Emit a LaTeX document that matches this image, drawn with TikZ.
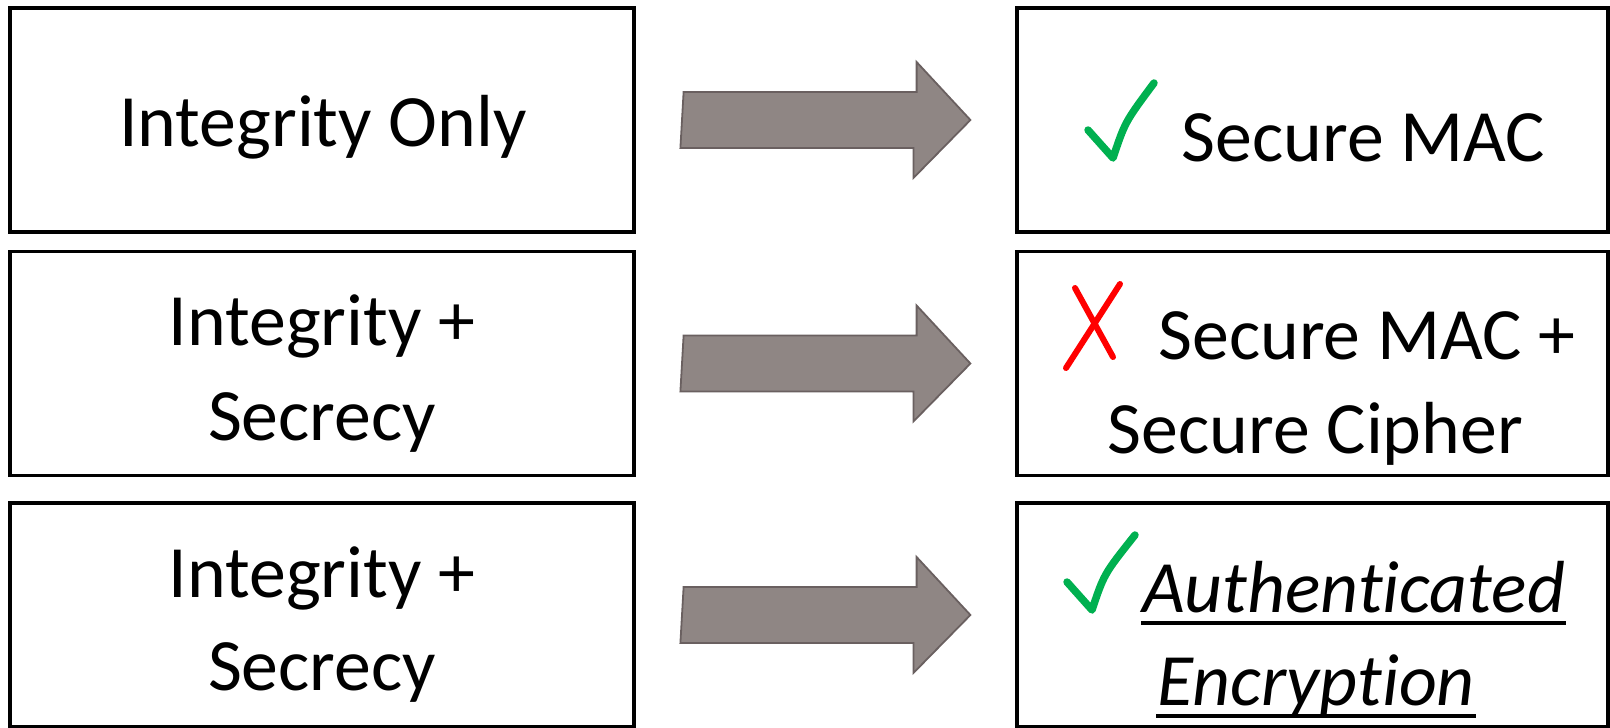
\documentclass[tikz,border=0pt]{standalone}
\usepackage{fontspec}
\setmainfont{Carlito}[Ligatures=NoCommon]
\usepackage{tikz}
\usetikzlibrary{calc,positioning}
\definecolor{arrowfill}{RGB}{143,134,132}
\definecolor{arrowline}{RGB}{106,96,96}
\definecolor{tickgreen}{RGB}{0,176,80}
\tikzset{
  box/.style={
    shape = rectangle,
    draw,
    line width = 0.032cm,
    inner sep = 0,
    minimum height = 2.24cm
  },
  lbox/.style={
    box,
    minimum width = 6.24cm
  },
  rbox/.style={
    box,
    minimum width = 5.91cm
  },
}
\tikzset{
  lbl/.style={
    inner sep = 0,
    anchor = base,
    font = \fontsize{21}{27}\selectfont
  },
  ilbl/.style={
    lbl,
    font = \fontsize{21}{27}\selectfont\itshape
  },
  bigarrow/.style={
    draw = arrowline,
    fill = arrowfill,
    line width = 0.018cm
  },
  tick/.style={
    draw = tickgreen,
    line width = 0.075cm,
    line cap = round,
    line join = round
  },
  cross/.style={
    draw = red,
    line width = 0.06cm,
    line cap = round
  },
  uline/.style={
    line width = 0.04cm
  }
}

\begin{document}
\begin{tikzpicture}
\useasboundingbox (0,0) rectangle (16.1,-7.27);
% boxes
\node[lbox] (l1) at (3.22,-1.20) {};
\node[lbox] (l2) at (3.22,-3.635) {};
\node[lbox] (l3) at (3.22,-6.15) {};
\node[rbox] (r1) at (13.125,-1.20) {};
\node[rbox] (r2) at (13.125,-3.635) {};
\node[rbox] (r3) at (13.125,-6.15) {};
% block arrows
\foreach \r in {1,2,3}{
  \draw[bigarrow] ($(l\r.east)+(0.48,0.28)$) -- ++(2.33,0) -- ++(0,0.30)
    -- ($(r\r.west)+(-0.45,0)$) -- ++(-0.57,-0.58) -- ++(0,0.30) -- ++(-2.33,0) -- cycle; }
% left texts
\node[lbl] (t1) at (3.23,-1.46) {Integrity Only};
\node[lbl] (t2a) at (3.22,-3.45) {Integrity +};
\node[lbl] (t2b) at (3.22,-4.40) {Secrecy};
\node[lbl] (t3a) at (3.22,-5.97) {Integrity +};
\node[lbl] (t3b) at (3.22,-6.90) {Secrecy};
% right texts
\node[lbl] (s1) at (13.635,-1.61) {Secure MAC};
\node[lbl] (s2a) at (13.67,-3.59) {Secure MAC +};
\node[lbl] (s2b) at (13.155,-4.53) {Secure Cipher};
\node[ilbl] (s3a) at (13.535,-6.12) {Authenticated};
\node[ilbl] (s3b) at (13.16,-7.05) {Encryption};
\draw[uline] ([yshift=-0.11cm]s3a.base west) -- ([yshift=-0.11cm]s3a.base east);
\draw[uline] ([yshift=-0.11cm]s3b.base west) -- ([yshift=-0.11cm]s3b.base east);
% marks
\draw[tick] (10.88,-1.30) -- (11.13,-1.58) .. controls (11.25,-1.22) .. (11.54,-0.83);
\draw[tick] (10.67,-5.82) -- (10.92,-6.10) .. controls (11.04,-5.74) .. (11.35,-5.35);
\draw[cross] (10.75,-2.88) -- (11.13,-3.57);
\draw[cross] (11.20,-2.84) -- (10.66,-3.68);
\end{tikzpicture}
\end{document}
